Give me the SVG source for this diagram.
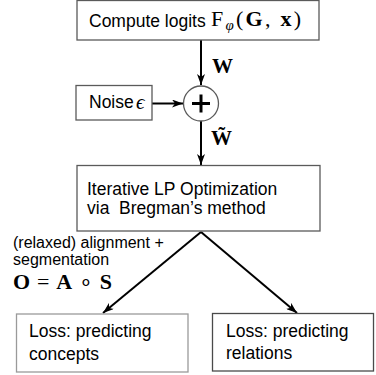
<svg xmlns="http://www.w3.org/2000/svg" width="376" height="375" viewBox="0 0 376 375">
<defs>
<marker id="ah" viewBox="0 0 11 8" refX="11" refY="4" markerWidth="11" markerHeight="8" markerUnits="userSpaceOnUse" orient="auto">
<path d="M0,0 L11,4 L0,8 L3,4 Z" fill="#000"/>
</marker>
<style>
.box{fill:#fff;stroke:#5a5a5a;stroke-width:1.3}
.t{font-family:"Liberation Sans",Arial,sans-serif;font-size:17.5px;fill:#000}
.s{font-family:"Liberation Sans",Arial,sans-serif;font-size:16px;fill:#000}
.m{font-family:"Liberation Serif","Times New Roman",serif;fill:#000}
.c{fill:none;stroke:#000;stroke-width:2;marker-end:url(#ah)}
</style>
</defs>
<rect width="376" height="375" fill="#fff"/>
<g id="connectors">
<line class="c" x1="201" y1="40" x2="201" y2="85"/>
<line class="c" x1="152" y1="103.5" x2="183" y2="103.5"/>
<line class="c" x1="201" y1="121" x2="201" y2="165"/>
<line class="c" x1="201" y1="232" x2="103" y2="313"/>
<line class="c" x1="201" y1="232" x2="297" y2="313"/>
<text class="m" x="212" y="73" font-size="21" font-weight="bold">W</text>
<text class="m" x="211" y="145" font-size="21" font-weight="bold">W&#x303;</text>
<text class="s" x="13" y="248">(relaxed) alignment +</text>
<text class="s" x="13" y="265">segmentation</text>
<text class="m" x="13" y="289" font-size="22" textLength="99" lengthAdjust="spacing"><tspan font-weight="bold">O</tspan> = <tspan font-weight="bold">A</tspan> ∘ <tspan font-weight="bold">S</tspan></text>
</g>
<g id="compute">
<rect class="box" x="77" y="0.5" width="242" height="39.5"/>
<text class="t" x="89" y="27">Compute logits</text>
<text class="m" x="211" y="26" font-size="22" textLength="90" lengthAdjust="spacing">F<tspan font-style="italic" font-size="15" dy="4">φ</tspan><tspan dy="-4">(</tspan><tspan font-weight="bold">G</tspan>, <tspan font-weight="bold">x</tspan>)</text>
</g>
<g id="noise">
<rect class="box" x="76" y="85.5" width="76" height="34.5"/>
<text class="t" x="89" y="108">Noise</text>
<text class="m" x="136" y="109" font-size="21" font-style="italic">ϵ</text>
</g>
<g id="plus">
<circle cx="201" cy="103.5" r="17.5" fill="#fff" stroke="#5a5a5a" stroke-width="1.3"/>
<line x1="192" y1="103.5" x2="210" y2="103.5" stroke="#000" stroke-width="3"/>
<line x1="201" y1="94.5" x2="201" y2="112.5" stroke="#000" stroke-width="3"/>
</g>
<g id="lp">
<rect class="box" x="77" y="165.5" width="243" height="65.5"/>
<text class="t" x="87" y="195">Iterative LP Optimization</text>
<text class="t" x="87" y="214" xml:space="preserve">via  Bregman’s method</text>
</g>
<g id="concepts">
<rect class="box" x="16.5" y="314" width="171.5" height="58" style="stroke:#9a9a9a"/>
<text class="t" x="29" y="337">Loss: predicting</text>
<text class="t" x="29" y="360">concepts</text>
</g>
<g id="relations">
<rect class="box" x="212.5" y="313.5" width="161" height="57.5" style="stroke:#4a4a4a"/>
<text class="t" x="226" y="337">Loss: predicting</text>
<text class="t" x="226" y="359">relations</text>
</g>
</svg>
